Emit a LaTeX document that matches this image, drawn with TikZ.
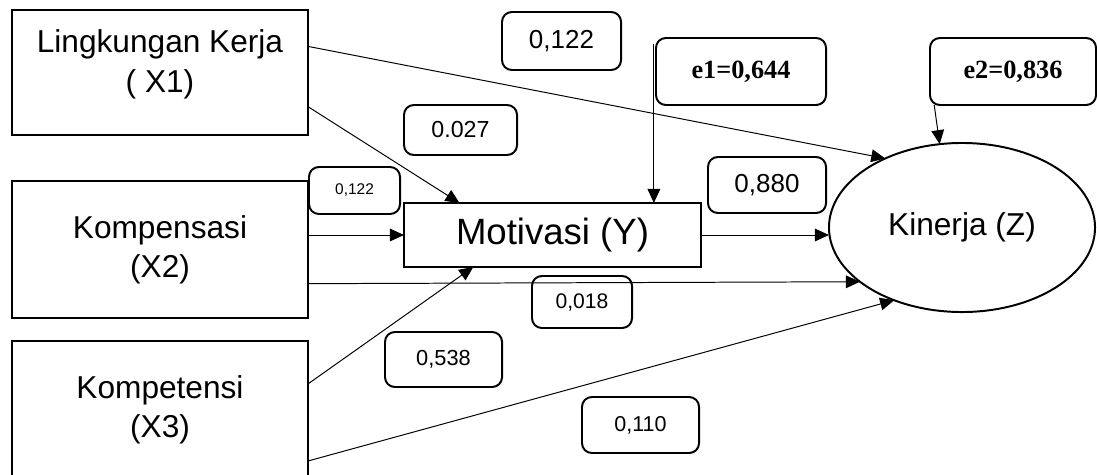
\documentclass[tikz,border=0pt]{standalone}
\usepackage{fontspec}
\setmainfont{Liberation Sans}
\newfontfamily\timesfont{Liberation Serif}
\usetikzlibrary{arrows.meta, shapes.geometric}

\begin{document}
\begin{tikzpicture}[x=0.025cm, y=-0.025cm, line join=miter,
	varbox/.style={draw, line width=1.4pt, outer sep=0pt, inner sep=0pt, minimum width=7.4cm, align=center, font=\fontsize{22.5}{28}\selectfont},
	coef/.style={draw, line width=1.4pt, rounded corners=7pt, outer sep=0pt, inner sep=0pt},
	path/.style={line width=0.7pt, -{Triangle[length=10pt, width=9pt]}}]

	\useasboundingbox (0, 0) rectangle (1097, 474);
	\clip (0, 0) rectangle (1097, 474);

	% variabel
	\node[varbox, minimum height=3.125cm] (x1) at (160, 72.5) {\parbox[c][2.125cm][t]{7cm}{\centering Lingkungan Kerja\\( X1)}};
	\node[varbox, minimum height=3.425cm] (x2) at (160, 249.5) {Kompensasi\\(X2)};
	\node[varbox, minimum height=3.45cm] (x3) at (160, 410) {Kompetensi\\(X3)};
	\node[draw, line width=1.4pt, outer sep=0pt, minimum width=7.425cm, minimum height=1.6cm, font=\fontsize{26}{30}\selectfont] (mot) at (552.5, 235) {Motivasi (Y)};
	\node[draw, ellipse, line width=1.4pt, outer sep=0pt, inner sep=0pt, minimum width=6.65cm, minimum height=4.225cm, font=\fontsize{22.5}{26}\selectfont] (kin) at (962, 227.5) {Kinerja (Z)};

	% koefisien jalur
	\node[coef, minimum width=2.975cm, minimum height=1.45cm, font=\fontsize{18.5}{20}\selectfont] (c1) at (561.5, 41) {0,122};
	\node[coef, minimum width=2.825cm, minimum height=1.25cm, font=\fontsize{16.5}{18}\selectfont] (c2) at (460.5, 130) {0.027};
	\node[coef, minimum width=2.275cm, minimum height=1.175cm, font=\fontsize{11}{12}\selectfont] (c3) at (354.5, 190.5) {0,122};
	\node[coef, minimum width=4.25cm, minimum height=1.675cm, font=\timesfont\bfseries\fontsize{18.7}{20}\selectfont] (e1) at (741, 71.5) {e1=0,644};
	\node[coef, minimum width=4.15cm, minimum height=1.675cm, font=\timesfont\bfseries\fontsize{18.7}{20}\selectfont] (e2) at (1013, 71.5) {e2=0,836};
	\node[coef, minimum width=2.95cm, minimum height=1.4cm, font=\fontsize{18.5}{20}\selectfont] (c4) at (767, 185) {0,880};
	\node[coef, minimum width=2.5cm, minimum height=1.3cm, font=\fontsize{15}{17}\selectfont] (c5) at (582, 302) {0,018};
	\node[coef, minimum width=2.925cm, minimum height=1.375cm, font=\fontsize{15.5}{17}\selectfont] (c6) at (443.5, 359.5) {0,538};
	\node[coef, minimum width=2.925cm, minimum height=1.4cm, font=\fontsize{15.3}{17}\selectfont] (c7) at (640.5, 425) {0,110};

	% panah
	\coordinate (e1t) at ([xshift=-1.5pt, yshift=-4pt]e1.north west);
	\draw[path] (x1.10) -- (kin.138);
	\draw[path] (x1.-13) -- (mot.161);
	\draw[path] (e1t) -- (e1t |- mot.north);
	\draw[path] ([xshift=3pt]e2.south west) -- (kin.105);
	\draw[path] (mot.west -| x2.east) -- (mot.west);
	\draw[path] (mot.east) -- (mot.east -| kin.west);
	\draw[path] (x2.-13) -- (kin.208);
	\draw[path] (x3.10) -- (mot.202);
	\draw[path] (x3.-19) -- (kin.227);
\end{tikzpicture}
\end{document}
